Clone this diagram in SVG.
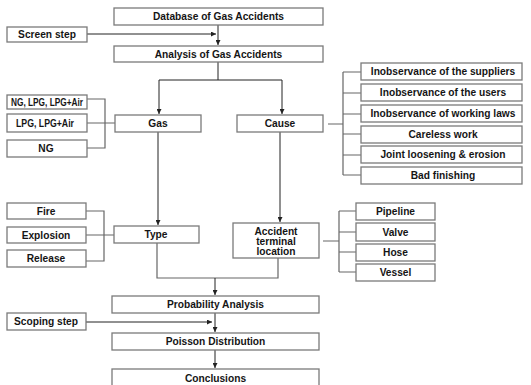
<svg xmlns="http://www.w3.org/2000/svg" width="531" height="385" viewBox="0 0 531 385">
<defs>
<style>
.b{fill:#fff;stroke:#7a7a7a;stroke-width:1.3}
.t{font-family:"Liberation Sans",Arial,sans-serif;font-weight:bold;font-size:10.2px;fill:#151515;text-anchor:middle;dominant-baseline:central}
.a{fill:none;stroke:#222;stroke-width:1}
.k{fill:none;stroke:#666;stroke-width:1.2}
</style>
<marker id="ar" viewBox="0 0 6 6" refX="6" refY="3" markerWidth="5" markerHeight="5" orient="auto" markerUnits="userSpaceOnUse">
<path d="M0,0 L6,3 L0,6 z" fill="#222"/>
</marker>
</defs>
<rect width="531" height="385" fill="#fff"/>
<g id="connectors">
<path class="a" d="M87,34 H216" marker-end="url(#ar)"/>
<path class="a" d="M218,25 V45" marker-end="url(#ar)"/>
<path class="a" d="M218,62 V80 H159 V114" marker-end="url(#ar)"/>
<path class="a" d="M218,80 H282 V114" marker-end="url(#ar)"/>
<path class="k" d="M87,99 H105 V148 H87 M87,123 H115"/>
<path class="k" d="M328,124 H343 M343,72 V175 M343,72 H361 M343,93 H361 M343,114 H361 M343,134 H361 M343,155 H361 M343,175 H361"/>
<path class="a" d="M158,132 V225" marker-end="url(#ar)"/>
<path class="a" d="M280,132 V222" marker-end="url(#ar)"/>
<path class="k" d="M86,211 H104 V261 H86 M86,235 H114"/>
<path class="k" d="M323,241 H339 M339,211 V272 M339,211 H356 M339,232 H356 M339,252 H356 M339,272 H356"/>
<path class="k" d="M157,243 V278 H278 V258"/>
<path class="a" d="M215,278 V295" marker-end="url(#ar)"/>
<path class="a" d="M86,322 H212" marker-end="url(#ar)"/>
<path class="a" d="M215,313 V332" marker-end="url(#ar)"/>
<path class="a" d="M215,350 V368" marker-end="url(#ar)"/>
</g>
<g id="database"><rect class="b" x="114" y="8" width="209" height="17"/><text class="t" x="218.5" y="16.5">Database of Gas Accidents</text></g>
<g id="screen"><rect class="b" x="7" y="27" width="80" height="15"/><text class="t" x="47" y="34.5">Screen step</text></g>
<g id="analysis"><rect class="b" x="114" y="46" width="209" height="16"/><text class="t" x="218.5" y="54">Analysis of Gas Accidents</text></g>
<g id="ng-lpg-air"><rect class="b" x="7" y="95" width="80" height="14"/><text class="t" x="47" y="102" textLength="72" lengthAdjust="spacingAndGlyphs">NG, LPG, LPG+Air</text></g>
<g id="lpg-air"><rect class="b" x="7" y="114" width="80" height="18"/><text class="t" x="45" y="123" textLength="58" lengthAdjust="spacingAndGlyphs">LPG, LPG+Air</text></g>
<g id="ng"><rect class="b" x="7" y="140" width="80" height="17"/><text class="t" x="46" y="148.5">NG</text></g>
<g id="gas"><rect class="b" x="115" y="115" width="86" height="17"/><text class="t" x="158" y="123.5">Gas</text></g>
<g id="cause"><rect class="b" x="237" y="115" width="86" height="17"/><text class="t" x="280" y="123.5">Cause</text></g>
<g id="c1"><rect class="b" x="361" y="63" width="161" height="17"/><text class="t" x="443" y="71.5">Inobservance of the suppliers</text></g>
<g id="c2"><rect class="b" x="361" y="84" width="161" height="17"/><text class="t" x="443" y="92.5">Inobservance of the users</text></g>
<g id="c3"><rect class="b" x="361" y="105" width="161" height="17"/><text class="t" x="443" y="113.5">Inobservance of working laws</text></g>
<g id="c4"><rect class="b" x="361" y="126" width="161" height="17"/><text class="t" x="443" y="134.5">Careless work</text></g>
<g id="c5"><rect class="b" x="361" y="146" width="161" height="17"/><text class="t" x="443" y="154.5">Joint loosening &amp; erosion</text></g>
<g id="c6"><rect class="b" x="361" y="167" width="161" height="17"/><text class="t" x="443" y="175.5">Bad finishing</text></g>
<g id="fire"><rect class="b" x="7" y="203" width="79" height="16"/><text class="t" x="46" y="211">Fire</text></g>
<g id="explosion"><rect class="b" x="7" y="227" width="79" height="16"/><text class="t" x="46" y="235">Explosion</text></g>
<g id="release"><rect class="b" x="7" y="250" width="79" height="17"/><text class="t" x="46" y="258.5">Release</text></g>
<g id="type"><rect class="b" x="114" y="226" width="85" height="17"/><text class="t" x="156" y="234.5">Type</text></g>
<g id="location"><rect class="b" x="233" y="223" width="86" height="35"/><text class="t" x="276" y="231.5">Accident</text><text class="t" x="276" y="241.5">terminal</text><text class="t" x="276" y="251.5">location</text></g>
<g id="pipeline"><rect class="b" x="356" y="203" width="79" height="17"/><text class="t" x="395.5" y="211.5">Pipeline</text></g>
<g id="valve"><rect class="b" x="356" y="223" width="79" height="18"/><text class="t" x="395.5" y="232">Valve</text></g>
<g id="hose"><rect class="b" x="356" y="244" width="79" height="17"/><text class="t" x="395.5" y="252.5">Hose</text></g>
<g id="vessel"><rect class="b" x="356" y="264" width="79" height="17"/><text class="t" x="395.5" y="272.5">Vessel</text></g>
<g id="probability"><rect class="b" x="112" y="296" width="207" height="17"/><text class="t" x="215.5" y="304.5">Probability Analysis</text></g>
<g id="scoping"><rect class="b" x="7" y="313" width="79" height="17"/><text class="t" x="46" y="321.5">Scoping step</text></g>
<g id="poisson"><rect class="b" x="112" y="333" width="207" height="17"/><text class="t" x="215.5" y="341.5">Poisson Distribution</text></g>
<g id="conclusions"><rect class="b" x="112" y="369" width="207" height="22"/><text class="t" x="215.5" y="378">Conclusions</text></g>
</svg>
